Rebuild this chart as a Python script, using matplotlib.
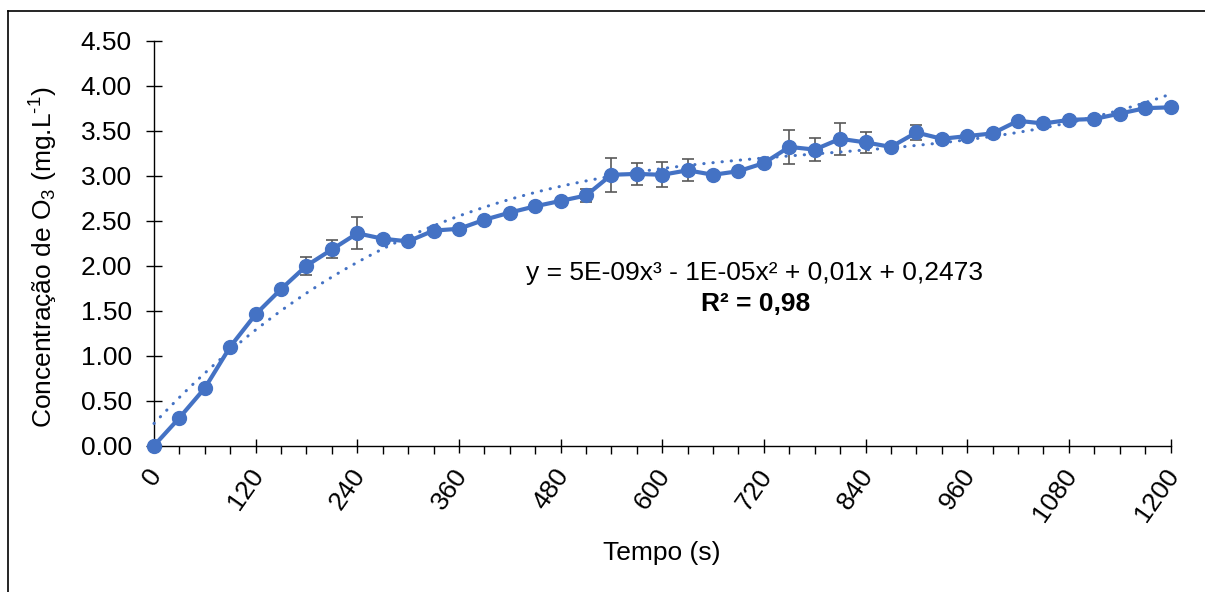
import numpy as np
import matplotlib
matplotlib.use("Agg")
import matplotlib.pyplot as plt
from matplotlib.ticker import MultipleLocator, FixedLocator
from matplotlib.transforms import ScaledTranslation
from matplotlib.lines import Line2D

# ---- data ----
tempo_s = [0, 30, 60, 90, 120, 150, 180, 210, 240, 270, 300, 330, 360, 390, 420,
           450, 480, 510, 540, 570, 600, 630, 660, 690, 720, 750, 780, 810, 840,
           870, 900, 930, 960, 990, 1020, 1050, 1080, 1110, 1140, 1170, 1200]
conc_o3 = [0.00, 0.31, 0.64, 1.10, 1.46, 1.74, 2.00, 2.18, 2.36, 2.30, 2.27, 2.39,
           2.41, 2.51, 2.59, 2.66, 2.72, 2.78, 3.01, 3.02, 3.01, 3.06, 3.01, 3.05,
           3.14, 3.32, 3.29, 3.41, 3.37, 3.32, 3.48, 3.41, 3.44, 3.47, 3.61, 3.58,
           3.62, 3.63, 3.69, 3.75, 3.76]
erro = [0.00, 0.00, 0.00, 0.00, 0.00, 0.00, 0.10, 0.10, 0.18, 0.00, 0.00, 0.00,
        0.00, 0.00, 0.00, 0.00, 0.00, 0.075, 0.19, 0.125, 0.14, 0.12, 0.00, 0.00,
        0.00, 0.19, 0.125, 0.18, 0.12, 0.00, 0.08, 0.00, 0.00, 0.00, 0.00, 0.00,
        0.00, 0.00, 0.00, 0.00, 0.00]
x_ticks = [0, 120, 240, 360, 480, 600, 720, 840, 960, 1080, 1200]
y_ticks = [0.0, 0.5, 1.0, 1.5, 2.0, 2.5, 3.0, 3.5, 4.0, 4.5]
y_tick_labels = ["0.00", "0.50", "1.00", "1.50", "2.00", "2.50", "3.00", "3.50", "4.00", "4.50"]
equation_text = "y = 5E-09x³ - 1E-05x² + 0,01x + 0,2473"
r2_text = "R² = 0,98"

plt.rcParams['font.family'] = ['Liberation Sans', 'DejaVu Sans']
plt.rcParams['mathtext.fontset'] = 'custom'
plt.rcParams['mathtext.rm'] = 'Liberation Sans'
plt.rcParams['mathtext.it'] = 'Liberation Sans'

W, H = 1205, 592
fig = plt.figure(figsize=(W / 100, H / 100), dpi=100)
fig.patch.set_facecolor('white')

L, R, T, B = 154, 1170.5, 40.7, 445.7
ax = fig.add_axes([L / W, 1 - B / H, (R - L) / W, (B - T) / H])

blue = '#4472C4'
t = np.array(tempo_s, dtype=float)
c = np.array(conc_o3, dtype=float)

ax.errorbar(t, c, yerr=erro, fmt='none', ecolor='#595959', elinewidth=1.2,
            capsize=4.5, capthick=1.2, zorder=2, clip_on=False)
ax.plot(t, c, '-o', color=blue, lw=3, markersize=10, zorder=3, clip_on=False)

coef = np.polyfit(t, c, 3)
tt = np.linspace(0, 1200, 400)
ax.plot(tt, np.polyval(coef, tt), color=blue, lw=2.2, linestyle=(0, (0.1, 2.9)),
        dash_capstyle='round', zorder=4, clip_on=False)

ax.set_xlim(0, 1200)
ax.set_ylim(0, 4.5)
for s in ['top', 'right']:
    ax.spines[s].set_visible(False)
for s in ['left', 'bottom']:
    ax.spines[s].set_linewidth(1.0)
    ax.spines[s].set_color('black')

ax.yaxis.set_major_locator(FixedLocator(y_ticks))
ax.set_yticklabels(y_tick_labels, fontsize=19)
ax.xaxis.set_major_locator(FixedLocator(x_ticks))
ax.xaxis.set_minor_locator(MultipleLocator(30))
ax.tick_params(axis='y', which='major', direction='inout', length=11, width=1.0, pad=10.5)
ax.tick_params(axis='x', which='major', direction='inout', length=10, width=1.0, pad=13.5)
ax.tick_params(axis='x', which='minor', direction='out', length=5.5, width=1.0)

ax.set_xticks(x_ticks)
ax.set_xticklabels([str(v) for v in x_ticks], fontsize=19, rotation=55,
                   ha='right', va='center', rotation_mode='anchor')
off = ScaledTranslation(3 / 100, 0, fig.dpi_scale_trans)
for lab in ax.get_xticklabels():
    lab.set_transform(lab.get_transform() + off)

fig.text(662 / W, 1 - 553 / H, "Tempo (s)", fontsize=19, ha='center', va='center')
fig.text(44 / W, 1 - 257 / H, r"Concentração de O$_3$ (mg.L$^{\text{-}1}$)", fontsize=19,
         rotation=90, ha='center', va='center')

fig.text(754 / W, 1 - 273 / H, equation_text, fontsize=19, ha='center', va='center')
fig.text(756 / W, 1 - 304 / H, r2_text, fontsize=19, ha='center', va='center',
         fontweight='bold')

# outer border
fig.add_artist(Line2D([8 / W, 8 / W], [1 - 11 / H, 0], transform=fig.transFigure,
                      color='black', lw=1.2))
fig.add_artist(Line2D([8 / W, 1], [1 - 11 / H, 1 - 11 / H], transform=fig.transFigure,
                      color='black', lw=1.2))

fig.savefig('out.png', dpi=100)
